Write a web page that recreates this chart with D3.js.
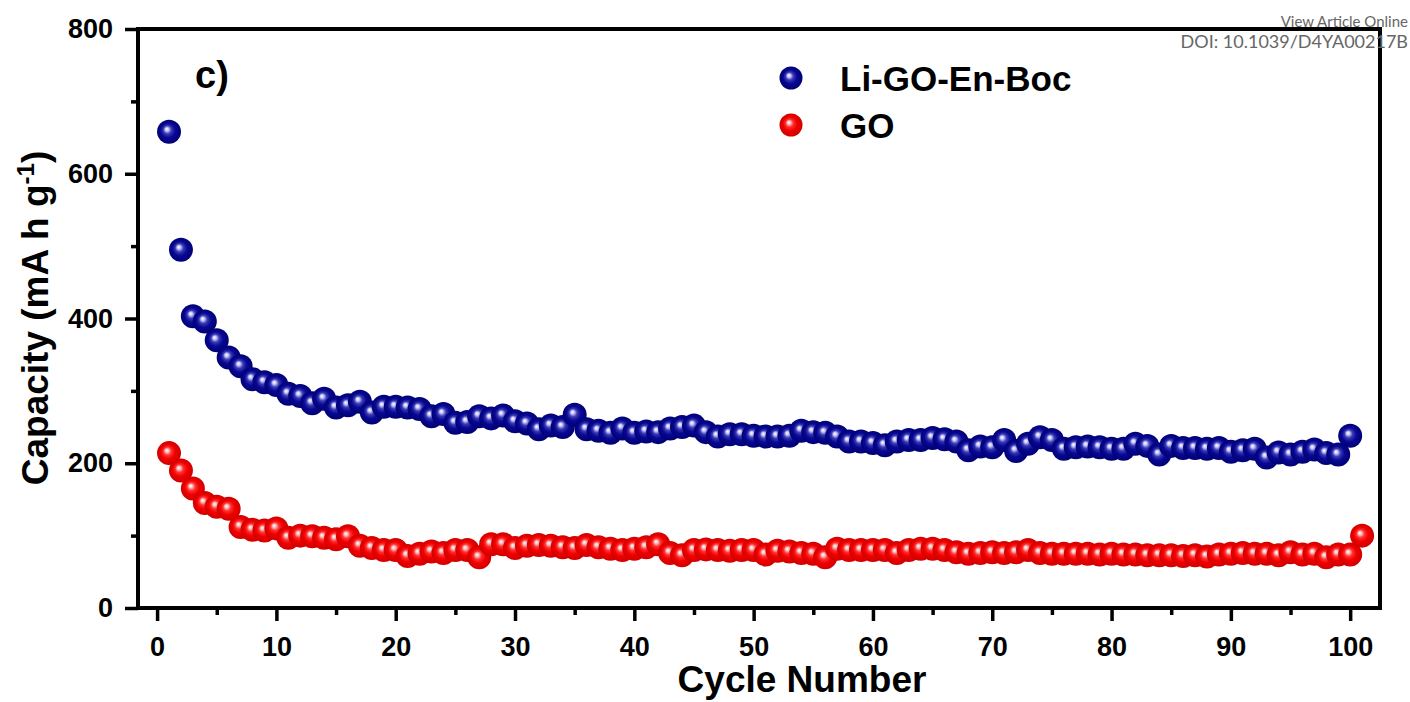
<!DOCTYPE html>
<html>
<head>
<meta charset="utf-8">
<script src="https://cdn.jsdelivr.net/npm/d3@7"></script>
<style>
  html, body { margin: 0; padding: 0; background: #fff; }
  svg { display: block; }
  text { font-family: "Liberation Sans", Arial, sans-serif; font-weight: bold; fill: #000; }
  .wm { font-family: Lato, "Open Sans", sans-serif; font-weight: 400; fill: #666; }
</style>
</head>
<body>
<script>
// capacity values (mA h g-1)
const seriesNames = ["Li-GO-En-Boc", "GO"];
const liGoEnBoc = [658, 495, 403, 396, 370, 346, 334, 316, 312, 308,
  296, 293, 283, 289, 277, 280, 285, 270, 278, 278,
  277, 275, 265, 268, 256, 257, 265, 262, 266, 258,
  255, 247, 252, 250, 267, 247, 245, 242, 248, 242,
  244, 243, 248, 250, 252, 243, 237, 240, 240, 238,
  237, 237, 238, 245, 243, 242, 237, 230, 230, 228,
  225, 230, 232, 232, 235, 233, 230, 218, 223, 222,
  232, 217, 227, 236, 232, 220, 222, 223, 222, 220,
  220, 227, 224, 212, 224, 221, 221, 220, 221, 216,
  218, 220, 208, 215, 212, 216, 219, 214, 212, 238];
const go = [214, 190, 165, 145, 140, 137, 112, 108, 107, 110,
  97, 100, 99, 97, 95, 99, 86, 83, 80, 80,
  72, 75, 78, 76, 80, 80, 70, 88, 88, 83,
  86, 87, 86, 84, 83, 87, 84, 82, 80, 82,
  84, 88, 76, 73, 80, 81, 80, 79, 80, 80,
  74, 79, 78, 76, 75, 70, 82, 80, 80, 80,
  80, 76, 80, 82, 82, 80, 77, 75, 76, 77,
  76, 77, 80, 76, 75, 75, 75, 75, 74, 75,
  74, 74, 73, 73, 73, 72, 73, 71, 74, 75,
  76, 75, 75, 73, 77, 74, 75, 70, 74, 74, 100];
const xTicks = [0, 10, 20, 30, 40, 50, 60, 70, 80, 90, 100];
const yTicks = [0, 200, 400, 600, 800];

const width = 1410, height = 702;
const svg = d3.select("body").append("svg").attr("width", width).attr("height", height);

const x = d3.scaleLinear().domain([-1.6, 102.5]).range([138, 1380]);
const y = d3.scaleLinear().domain([0, 800]).range([608, 29]);

// sphere gradients
const defs = svg.append("defs");
function sphere(id, stops) {
  const g = defs.append("radialGradient").attr("id", id)
    .attr("cx", "50%").attr("cy", "50%").attr("r", "50%")
    .attr("fx", "40%").attr("fy", "38%");
  stops.forEach(s => g.append("stop").attr("offset", s[0]).attr("stop-color", s[1]));
}
sphere("blueBall", [["0%", "#ffffff"], ["14%", "#c9c9ff"], ["34%", "#3a3ab4"], ["60%", "#080894"], ["100%", "#000074"]]);
sphere("redBall", [["0%", "#ffffff"], ["14%", "#ffc4c4"], ["34%", "#ff3030"], ["60%", "#f00000"], ["100%", "#d00000"]]);

const series = [
  { name: seriesNames[0], values: liGoEnBoc, fill: "url(#blueBall)" },
  { name: seriesNames[1], values: go, fill: "url(#redBall)" }
];

// axes
const xMajor = svg.append("g").attr("transform", "translate(0,608)")
  .call(d3.axisBottom(x).tickValues(xTicks).tickSize(13).tickPadding(16).tickSizeOuter(0));
const xMinor = svg.append("g").attr("transform", "translate(0,608)")
  .call(d3.axisBottom(x).tickValues(d3.range(5, 100, 10)).tickSize(7).tickFormat(""));
const yMajor = svg.append("g").attr("transform", "translate(138,0)")
  .call(d3.axisLeft(y).tickValues(yTicks).tickSize(13).tickPadding(12).tickSizeOuter(0));
const yMinor = svg.append("g").attr("transform", "translate(138,0)")
  .call(d3.axisLeft(y).tickValues(d3.range(100, 800, 200)).tickSize(7).tickFormat(""));

[xMajor, xMinor, yMajor, yMinor].forEach(g => {
  g.select(".domain").remove();
  g.selectAll(".tick line").attr("stroke", "#000").attr("stroke-width", 3.5);
  g.selectAll(".tick text").style("font-size", "27px").style("font-family", "'Liberation Sans', Arial, sans-serif")
    .style("font-weight", "bold").attr("fill", "#000");
});

// data points
series.forEach(s => {
  svg.append("g").selectAll("circle").data(s.values).enter().append("circle")
    .attr("cx", (d, i) => x(i + 1))
    .attr("cy", d => y(d))
    .attr("r", 12)
    .attr("fill", s.fill);
});

// frame
svg.append("rect").attr("x", 138).attr("y", 29).attr("width", 1380 - 138).attr("height", 608 - 29)
  .attr("fill", "none").attr("stroke", "#000").attr("stroke-width", 4);

// titles
svg.append("text").attr("x", 802).attr("y", 692).attr("text-anchor", "middle")
  .style("font-size", "37px").text("Cycle Number");

const yt = svg.append("text").attr("transform", "translate(48,318) rotate(-90)")
  .attr("text-anchor", "middle").style("font-size", "37px");
yt.append("tspan").text("Capacity (mA h g");
yt.append("tspan").attr("dy", -14).style("font-size", "24px").text("-1");
yt.append("tspan").attr("dy", 14).text(")");

svg.append("text").attr("x", 195).attr("y", 88).style("font-size", "38px").text("c)");

// legend
const legend = svg.append("g").selectAll("g").data(series).enter().append("g")
  .attr("transform", (d, i) => "translate(791," + (78 + i * 47) + ")");
legend.append("circle").attr("r", 11.5).attr("fill", d => d.fill);
legend.append("text").attr("x", 49).attr("y", 13).style("font-size", "35px").text(d => d.name);

// watermark
svg.append("text").attr("class", "wm").attr("x", 1408).attr("y", 27).attr("text-anchor", "end")
  .style("font-size", "15px").text("View Article Online");
svg.append("text").attr("class", "wm").attr("x", 1408).attr("y", 48).attr("text-anchor", "end")
  .style("font-size", "18px").text("DOI: 10.1039/D4YA00217B");
</script>
</body>
</html>
